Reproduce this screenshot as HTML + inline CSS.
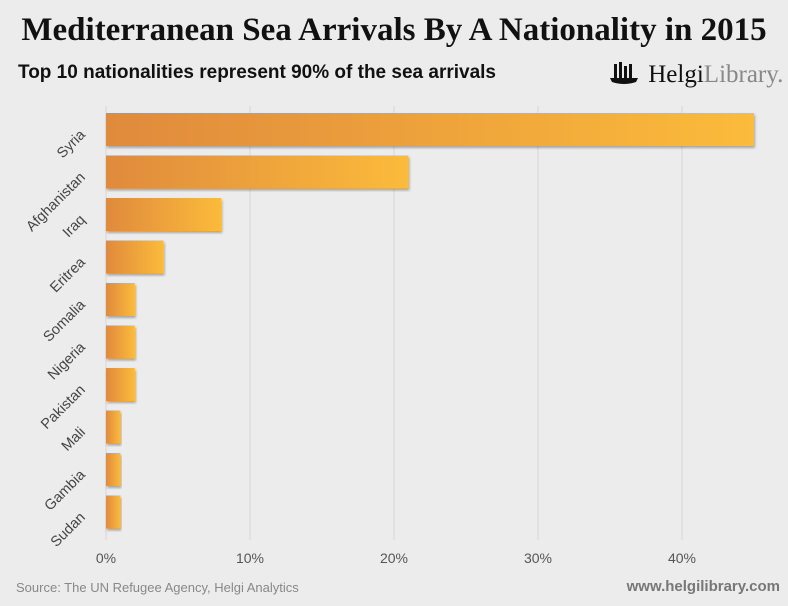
<!DOCTYPE html>
<html><head><meta charset="utf-8"><style>
body{margin:0;width:788px;height:606px;background:#ececec;overflow:hidden;font-family:"Liberation Sans",sans-serif;position:relative}
.t{position:absolute;left:0;width:788px;text-align:center;top:12px;font-family:"Liberation Serif",serif;font-weight:bold;font-size:33px;color:#111;white-space:nowrap}
.st{position:absolute;left:18px;top:62px;font-weight:bold;font-size:19px;color:#111}
.src{position:absolute;left:16px;top:580px;font-size:13px;color:#888}
.www{position:absolute;right:8px;top:578px;font-size:15px;font-weight:bold;color:#777}
.logo{position:absolute;left:608px;top:60px;font-family:"Liberation Serif",serif;font-size:25px;color:#111}
.logo span{color:#888}
</style></head><body>
<div class="t">Mediterranean Sea Arrivals By A Nationality in 2015</div>
<div class="st">Top 10 nationalities represent 90% of the sea arrivals</div>
<div class="logo"><svg width="34" height="26" style="vertical-align:-4px"><g fill="#111"><rect x="6" y="4" width="3" height="14"/><rect x="11" y="2" width="3" height="16"/><rect x="16" y="6" width="3" height="12"/><rect x="21" y="4" width="3" height="14"/><path d="M2 18 H30 L28 22 Q16 26 4 22 Z"/></g></svg> Helgi<span>Library.</span></div>
<svg id="c" width="788" height="606" style="position:absolute;left:0;top:0">
<defs>
<linearGradient id="g" x1="0" x2="1" y1="0" y2="0"><stop offset="0" stop-color="#e08a3c"/><stop offset="1" stop-color="#fbbb3a"/></linearGradient>
<filter id="sh"><feDropShadow dx="1" dy="2" stdDeviation="1.2" flood-color="#000" flood-opacity="0.3"/></filter>
</defs>
</svg>
<div class="src">Source: The UN Refugee Agency, Helgi Analytics</div>
<div class="www">www.helgilibrary.com</div>
<script>
const categories=["Syria","Afghanistan","Iraq","Eritrea","Somalia","Nigeria","Pakistan","Mali","Gambia","Sudan"];
const values=[45,21,8,4,2,2,2,1,1,1];
const ticks=[0,10,20,30,40];
const tickLabels=["0%","10%","20%","30%","40%"];
const svg=document.getElementById('c');
const NS="http://www.w3.org/2000/svg";
const x0=106,pxPer=14.4,top0=108,band=42.5,bh=33;
const X=v=>x0+v*pxPer;
const Y=i=>top0+i*band;
function mk(t,a){const e=document.createElementNS(NS,t);for(const k in a)e.setAttribute(k,a[k]);svg.appendChild(e);return e;}
ticks.forEach((t,i)=>{
 const l=mk('line',{x1:X(t),x2:X(t),y1:106,y2:540,stroke:'#d6d6d6','stroke-width':1});
 
 
 const tx=mk('text',{x:X(t),y:563,'text-anchor':'middle','font-size':14,fill:'#555','font-family':'Liberation Sans, sans-serif'});
 tx.textContent=tickLabels[i];
 
 
});
categories.forEach((c,i)=>{
 const r=mk('rect',{x:x0,y:Y(i)+5,width:X(values[i])-x0,height:bh,fill:'url(#g)',filter:'url(#sh)'});
 
 
 const cy=Y(i)+5+bh/2+6;
 const tx=mk('text',{x:86,y:cy,'text-anchor':'end','font-size':14.5,fill:'#444','font-family':'Liberation Sans, sans-serif',transform:`rotate(-45 86 ${cy})`});
 tx.textContent=c;
 
 
});
</script>
</body></html>
